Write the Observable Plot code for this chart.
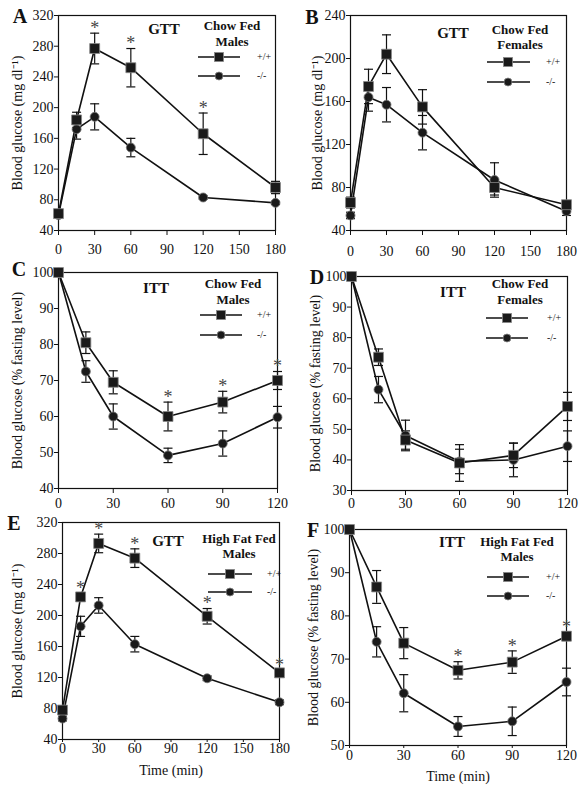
<!DOCTYPE html>
<html><head><meta charset="utf-8">
<script src="https://cdn.jsdelivr.net/npm/d3@7"></script>
<script src="https://cdn.jsdelivr.net/npm/@observablehq/plot@0.6"></script>
<style>
body{margin:0;background:#fff;}
#fig{position:relative;width:583px;height:787px;overflow:hidden;font-family:"Liberation Serif","Times New Roman",Times,serif;color:#111;background:#fff;}
.pan{position:absolute;}
.ctr{position:absolute;transform:translate(-50%,-50%);white-space:nowrap;line-height:1;}
.lft{position:absolute;transform:translate(0,-50%);white-space:nowrap;line-height:1;}
.letter{font-weight:bold;font-size:20px;}
.ttl{font-weight:bold;font-size:15px;}
.sub{font-weight:bold;font-size:13px;}
.lg{font-size:10px;color:#111;}
</style></head><body><div id="fig"></div>
<script>
// ---- data ----
const gttTimes = [0, 15, 30, 60, 120, 180];
const ittTimes = [0, 15, 30, 60, 90, 120];
const gttTicks = [0, 30, 60, 90, 120, 150, 180];
const ittTicks = [0, 30, 60, 90, 120];
const genotypes = ["+/+", "-/-"];

// A: GTT chow fed males (mg/dl)
const aWT = [62, 184, 277, 252, 166, 96];
const aWTErr = [3, 10, 20, 25, 27, 8];
const aKO = [60, 172, 188, 148, 83, 76];
const aKOErr = [3, 13, 17, 12, 2, 2];
const aSig = [30, 60, 120];
// B: GTT chow fed females
const bWT = [66, 174, 204, 155, 80, 64];
const bWTErr = [5, 16, 18, 16, 7, 3];
const bKO = [54, 164, 157, 131, 87, 58];
const bKOErr = [3, 13, 16, 16, 16, 4];
const bSig = [];
// C: ITT chow fed males (% fasting)
const cWT = [100, 80.5, 69.5, 60, 64, 70];
const cWTErr = [0, 3, 3.2, 4, 3, 2.5];
const cKO = [100, 72.5, 60, 49.2, 52.5, 59.8];
const cKOErr = [0, 3, 3.5, 2, 3.5, 3];
const cSig = [60, 90, 120];
// D: ITT chow fed females
const dWT = [100, 73.6, 46.5, 39, 41.5, 57.5];
const dWTErr = [0, 2.7, 3, 6, 4, 4.6];
const dKO = [100, 63, 48, 39.5, 40, 44.5];
const dKOErr = [0, 4.3, 5, 4, 5.5, 5];
const dSig = [];
// E: GTT high fat fed males
const eWT = [78, 224, 293, 274, 199, 126];
const eWTErr = [4, 5, 12, 12, 10, 4];
const eKO = [67, 186, 213, 163, 119, 88];
const eKOErr = [3, 13, 10, 10, 3, 3];
const eSig = [15, 30, 60, 120, 180];
// F: ITT high fat fed males
const fWT = [100, 86.7, 73.7, 67.4, 69.3, 75.3];
const fWTErr = [0, 3.8, 3.6, 2, 2.6, 1];
const fKO = [100, 74, 62.1, 54.4, 55.6, 64.7];
const fKOErr = [0, 3.5, 4.3, 2.3, 3.3, 3.2];
const fSig = [60, 90, 120];

const gttLabel = "Blood glucose (mg dl\u207B\u00B9)";
const ittLabel = "Blood glucose (% fasting level)";

const panels = [
  {id:"A", title:"GTT", sub:["Chow Fed","Males"], times:gttTimes, xTicks:gttTicks, yDomain:[40,320], yTicks:d3.range(40,321,40),
   wt:aWT, wtErr:aWTErr, ko:aKO, koErr:aKOErr, sig:aSig, ylabel:gttLabel, xlabel:null,
   left:0, top:0, fr:[58,275,15,230], tickSize:5, tickPad:9, yOff:46,
   letter:[20,16], ttlPos:[164,29], subPos:[232,25,41], lg:[198,240,219,257,57,76]},
  {id:"B", title:"GTT", sub:["Chow Fed","Females"], times:gttTimes, xTicks:gttTicks, yDomain:[40,240], yTicks:d3.range(40,241,40),
   wt:bWT, wtErr:bWTErr, ko:bKO, koErr:bKOErr, sig:bSig, ylabel:gttLabel, xlabel:null,
   left:290, top:0, fr:[350,566,15,230], tickSize:5, tickPad:11, yOff:38,
   letter:[312,17], ttlPos:[453,33], subPos:[520,29,44], lg:[487,530,508,546,62,82]},
  {id:"C", title:"ITT", sub:["Chow Fed","Males"], times:ittTimes, xTicks:ittTicks, yDomain:[40,100], yTicks:d3.range(40,101,10),
   wt:cWT, wtErr:cWTErr, ko:cKO, koErr:cKOErr, sig:cSig, ylabel:ittLabel, xlabel:null,
   left:0, top:255, fr:[58,277,272,488], tickSize:5, tickPad:5, yOff:46,
   letter:[19,269], ttlPos:[156,288], subPos:[233,283,299], lg:[200,242,221,257,315,335]},
  {id:"D", title:"ITT", sub:["Chow Fed","Females"], times:ittTimes, xTicks:ittTicks, yDomain:[30,100], yTicks:d3.range(30,101,10),
   wt:dWT, wtErr:dWTErr, ko:dKO, koErr:dKOErr, sig:dSig, ylabel:ittLabel, xlabel:null,
   left:290, top:258, fr:[351,567,276,490], tickSize:5, tickPad:3, yOff:41,
   letter:[317,277], ttlPos:[453,292], subPos:[520,283,299], lg:[486,528,507,547,318,338]},
  {id:"E", title:"GTT", sub:["High Fat Fed","Males"], times:gttTimes, xTicks:gttTicks, yDomain:[40,320], yTicks:d3.range(40,321,40),
   wt:eWT, wtErr:eWTErr, ko:eKO, koErr:eKOErr, sig:eSig, ylabel:gttLabel, xlabel:"Time (min)",
   left:0, top:510, fr:[62,279,522,739], tickSize:3, tickPad:1, yOff:50,
   letter:[14,523], ttlPos:[168,541], subPos:[239,538,553], lg:[208,252,230,267,574,592]},
  {id:"F", title:"ITT", sub:["High Fat Fed","Males"], times:ittTimes, xTicks:ittTicks, yDomain:[50,100], yTicks:d3.range(50,101,10),
   wt:fWT, wtErr:fWTErr, ko:fKO, koErr:fKOErr, sig:fSig, ylabel:ittLabel, xlabel:"Time (min)",
   left:290, top:515, fr:[349,566,529,745], tickSize:3, tickPad:2, yOff:41,
   letter:[313,530], ttlPos:[452,542], subPos:[517,541,556], lg:[487,529,508,546,577,596]}
];

const capSymbol = {draw(ctx, size) { const w = Math.sqrt(size / Math.PI); ctx.moveTo(-w, 0); ctx.lineTo(w, 0); }};
const fig = document.getElementById("fig");
const serif = "'Liberation Serif', 'Times New Roman', Times, serif";

function el(cls, txt, x, y) {
  const d = document.createElement("div");
  d.className = cls; d.textContent = txt;
  d.style.left = x + "px"; d.style.top = y + "px";
  fig.appendChild(d); return d;
}

for (const p of panels) {
  const [fx0, fx1, fy0, fy1] = p.fr;
  const rows = (m, e, g) => p.times.map((t, i) => ({t, m: m[i], lo: m[i] - e[i], hi: m[i] + e[i], g}));
  const wtRows = rows(p.wt, p.wtErr, genotypes[0]);
  const koRows = rows(p.ko, p.koErr, genotypes[1]);
  const errRows = [...koRows, ...wtRows].filter(d => d.hi - d.lo > 0.5);
  const sigRows = wtRows.filter(d => p.sig.includes(d.t));
  const mb = p.xlabel ? 45 : 30;
  const chart = Plot.plot({
    width: fx1 - p.left + 10,
    height: fy1 - p.top + mb,
    marginLeft: fx0 - p.left, marginRight: 10, marginTop: fy0 - p.top, marginBottom: mb,
    style: {background: "none", fontFamily: serif, fontSize: "14px", color: "#111", overflow: "visible"},
    x: {domain: [0, p.times[p.times.length - 1]], ticks: p.xTicks, tickSize: p.tickSize, tickPadding: p.tickPad,
        label: p.xlabel, labelAnchor: "center", labelArrow: "none", labelOffset: 35},
    y: {domain: p.yDomain, ticks: p.yTicks, tickSize: 4, tickPadding: 1,
        label: p.ylabel, labelAnchor: "center", labelArrow: "none", labelOffset: p.yOff},
    marks: [
      Plot.frame({stroke: "#111", strokeWidth: 1.2}),
      Plot.ruleX(errRows, {x: "t", y1: "lo", y2: "hi", stroke: "#111", strokeWidth: 1.2}),
      Plot.dot(errRows, {x: "t", y: "hi", symbol: capSymbol, r: 4.5, stroke: "#111", strokeWidth: 1.2, fill: "none"}),
      Plot.dot(errRows, {x: "t", y: "lo", symbol: capSymbol, r: 4.5, stroke: "#111", strokeWidth: 1.2, fill: "none"}),
      Plot.line(koRows, {x: "t", y: "m", stroke: "#111", strokeWidth: 1.6}),
      Plot.line(wtRows, {x: "t", y: "m", stroke: "#111", strokeWidth: 1.6}),
      Plot.dot(koRows, {x: "t", y: "m", symbol: "circle", r: 4.5, fill: "#1a1a1a", stroke: "#777", strokeWidth: 0.8}),
      Plot.dot(wtRows, {x: "t", y: "m", symbol: "square", r: 5.6, fill: "#1a1a1a", stroke: "#888", strokeWidth: 0.8}),
      Plot.text(sigRows, {x: "t", y: "hi", text: () => "*", dy: -5, fontSize: 18, fill: "#444", fontFamily: serif})
    ]
  });
  const wrap = document.createElement("div");
  wrap.className = "pan";
  wrap.style.left = p.left + "px"; wrap.style.top = p.top + "px";
  wrap.appendChild(chart);
  fig.appendChild(wrap);

  // annotations
  el("ctr letter", p.id, p.letter[0], p.letter[1]);
  el("ctr ttl", p.title, p.ttlPos[0], p.ttlPos[1]);
  el("ctr sub", p.sub[0], p.subPos[0], p.subPos[1]);
  el("ctr sub", p.sub[1], p.subPos[0], p.subPos[2]);
  const [lx0, lx1, mx, tx, y1, y2] = p.lg;
  const ns = "http://www.w3.org/2000/svg";
  const svg = document.createElementNS(ns, "svg");
  svg.setAttribute("width", lx1 - lx0 + 10); svg.setAttribute("height", y2 - y1 + 14);
  svg.style.position = "absolute"; svg.style.left = (lx0 - 5) + "px"; svg.style.top = (y1 - 7) + "px";
  const ox = lx0 - 5, oy = y1 - 7;
  [y1, y2].forEach((yy, k) => {
    const ln = document.createElementNS(ns, "line");
    ln.setAttribute("x1", lx0 - ox); ln.setAttribute("x2", lx1 - ox);
    ln.setAttribute("y1", yy - oy); ln.setAttribute("y2", yy - oy);
    ln.setAttribute("stroke", "#111"); ln.setAttribute("stroke-width", 1.4);
    svg.appendChild(ln);
    let m;
    if (k === 0) {
      m = document.createElementNS(ns, "rect");
      m.setAttribute("x", mx - ox - 4.5); m.setAttribute("y", yy - oy - 4.5);
      m.setAttribute("width", 9); m.setAttribute("height", 9);
    } else {
      m = document.createElementNS(ns, "circle");
      m.setAttribute("cx", mx - ox); m.setAttribute("cy", yy - oy); m.setAttribute("r", 4);
    }
    m.setAttribute("fill", "#1a1a1a"); m.setAttribute("stroke", "#888"); m.setAttribute("stroke-width", 0.8);
    svg.appendChild(m);
  });
  fig.appendChild(svg);
  el("lft lg", genotypes[0], tx, y1);
  el("lft lg", genotypes[1], tx, y2);
}
</script></body></html>
